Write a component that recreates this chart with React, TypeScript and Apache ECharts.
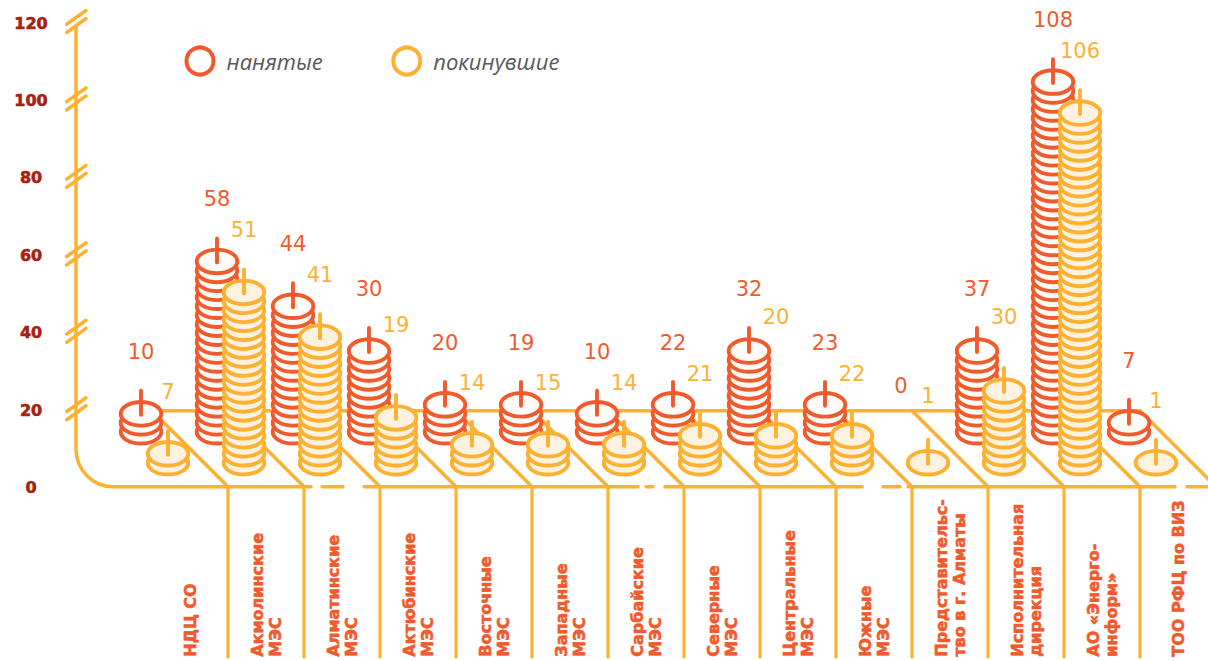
import React, { useEffect, useRef } from "react";
import * as echarts from "echarts";

const categories = [
  "НДЦ СО", "Акмолинские\nМЭС", "Алматинские\nМЭС", "Актюбинские\nМЭС", "Восточные\nМЭС",
  "Западные\nМЭС", "Сарбайские\nМЭС", "Северные\nМЭС", "Центральные\nМЭС", "Южные\nМЭС",
  "Представительс-\nтво в г. Алматы", "Исполнительная\nдирекция", "АО «Энерго-\nинформ»", "ТОО РФЦ по ВИЗ",
];
const hired = [10, 58, 44, 30, 20, 19, 10, 22, 32, 23, 0, 37, 108, 7];
const left = [7, 51, 41, 19, 14, 15, 14, 21, 20, 22, 1, 30, 106, 1];
const hiredCoins = [3, 20, 15, 10, 4, 4, 3, 4, 10, 4, 0, 10, 40, 2];
const leftCoins = [2, 20, 15, 6, 3, 3, 3, 4, 4, 4, 1, 9, 40, 1];
const yTicks = [20, 40, 60, 80, 100, 120];

const RED = "#F15A2C";
const ORANGE = "#FDB133";
const DARK = "#A8200F";
const FONT = "DejaVu Sans";

const COIN_STEP = 2.315;
const RX = 20.3;
const RY = 11.8;
const LW = 3.9;

const stackRender = (color: string, fill: string, dx: number, baseValue: number, raise: Record<number, number>) => (params: any, api: any) => {
  const i = api.value(0);
  const v = api.value(1);
  const n = api.value(2);
  const cx = api.coord([i, 0])[0] + dx;
  const children: any[] = [];
  let topY = api.coord([i, baseValue - COIN_STEP * 0.4])[1];
  for (let k = 0; k < n; k++) {
    const cy = api.coord([i, baseValue + k * COIN_STEP])[1];
    topY = cy;
    children.push({
      type: "ellipse",
      shape: { cx, cy, rx: RX, ry: RY },
      style: { fill: fill, stroke: color, lineWidth: LW },
    });
  }
  if (n > 0) {
    children.push({
      type: "line",
      shape: { x1: cx, y1: topY - 23, x2: cx, y2: topY + 1 },
      style: { stroke: color, lineWidth: LW, lineCap: "round" },
    });
  }
  children.push({
    type: "text",
    style: {
      x: cx,
      y: topY - 62 - (raise[i] || 0),
      text: String(v),
      fill: color,
      font: `400 21px ${FONT}`,
      align: "center",
      verticalAlign: "middle",
    },
  });
  return { type: "group", children };
};

const floorRender = (params: any, api: any) => {
  const band = api.size([1, 0])[0];
  const x0 = api.coord([0, 0])[0] - band / 2;
  const yZero = api.coord([0, 0])[1] - 1;
  const yBack = api.coord([0, 20])[1] + 0.5;
  const axisX = x0 - band;
  const line = (x1: number, y1: number, x2: number, y2: number, w = 3.5) => ({
    type: "line",
    shape: { x1, y1, x2, y2 },
    style: { stroke: ORANGE, lineWidth: w, lineCap: "round" },
  });
  const children: any[] = [];
  children.push({
    type: "path",
    shape: {
      pathData: `M${axisX} 27 L${axisX} 449 A37 38 0 0 0 ${axisX + 37} ${yZero} L311 ${yZero}`,
    },
    style: { fill: "none", stroke: ORANGE, lineWidth: 3.5, lineCap: "round" },
  });
  [[322, 343], [364, 638], [646, 653], [665, 862], [883, 900], [908, 1175], [1187, 1216]].forEach(([a, b]) =>
    children.push(line(a, yZero, b, yZero))
  );
  children.push(line(x0, yBack, x0 + 13 * band, yBack));
  categories.forEach((_, i) => {
    children.push(line(x0 + i * band, yBack, x0 + (i + 1) * band, yZero));
    if (i < 13) children.push(line(x0 + (i + 1) * band, yZero, x0 + (i + 1) * band, 657, 3.2));
  });
  yTicks.forEach((t) => {
    const y = api.coord([0, t])[1];
    children.push(line(axisX - 9.3, y + 1.2, axisX + 10, y - 12.5));
    children.push(line(axisX - 9.3, y + 9.5, axisX + 10, y - 4.5));
  });
  return { type: "group", children };
};

export default function App() {
  const ref = useRef<HTMLDivElement>(null);
  useEffect(() => {
    const chart = echarts.init(ref.current!, null, { renderer: "svg" });
    chart.setOption({
      animation: false,
      backgroundColor: "#fff",
      grid: { left: 152, top: 23, width: 1064, height: 465 },
      legend: {
        left: 184.5,
        top: 45.5,
        padding: 0,
        selectMode: false,
        itemWidth: 27,
        itemHeight: 27,
        itemGap: 68.5,
        textStyle: { color: "#58595B", fontFamily: "Open Sans", fontStyle: "italic", fontSize: 22, padding: [0, 0, 0, 8] },
        data: [
          { name: "нанятые", icon: "circle", itemStyle: { color: "#fff", borderColor: RED, borderWidth: 4 } },
          { name: "покинувшие", icon: "circle", itemStyle: { color: "#fff", borderColor: ORANGE, borderWidth: 4 } },
        ],
      },
      xAxis: {
        type: "category",
        data: categories,
        axisLine: { show: false },
        axisTick: { show: false },
        splitLine: { show: false },
        axisLabel: {
          interval: 0,
          rotate: 90,
          align: "left",
          verticalAlign: "middle",
          margin: 169,
          color: RED,
          fontFamily: FONT,
          fontWeight: 700,
          fontSize: 16,
          lineHeight: 18,
          padding: [2, 0, 0, 0],
          textBorderColor: RED,
          textBorderWidth: 0.6,
        },
      },
      yAxis: {
        type: "value",
        min: 0,
        max: 120,
        interval: 20,
        axisLine: { show: false },
        axisTick: { show: false },
        splitLine: { show: false },
        axisLabel: {
          align: "center",
          margin: 121,
          color: DARK,
          fontFamily: FONT,
          fontWeight: 700,
          fontSize: 16,
          textBorderColor: DARK,
          textBorderWidth: 0.6,
        },
      },
      series: [
        {
          name: "floor",
          type: "custom",
          silent: true,
          z: 1,
          renderItem: floorRender,
          data: [[0, 0]],
        },
        {
          name: "нанятые",
          type: "custom",
          silent: true,
          z: 2,
          itemStyle: { color: RED },
          renderItem: stackRender(RED, "#FEFCF9", -49, 14.45, { 10: -13 }),
          encode: { x: 0, y: 1 },
          data: hired.map((v, i) => [i, v, hiredCoins[i]]),
        },
        {
          name: "покинувшие",
          type: "custom",
          silent: true,
          z: 3,
          itemStyle: { color: ORANGE },
          renderItem: stackRender(ORANGE, "#FDF1DF", -22, 6.45, { 3: 31, 8: 57, 10: 5, 11: 12 }),
          encode: { x: 0, y: 1 },
          data: left.map((v, i) => [i, v, leftCoins[i]]),
        },
      ],
    });
    return () => chart.dispose();
  }, []);
  return (
    <div style={{ position: "fixed", left: 0, top: 0, width: 1208, height: 660, overflow: "hidden" }}>
      <div ref={ref} style={{ width: 1240, height: 660 }} />
    </div>
  );
}
